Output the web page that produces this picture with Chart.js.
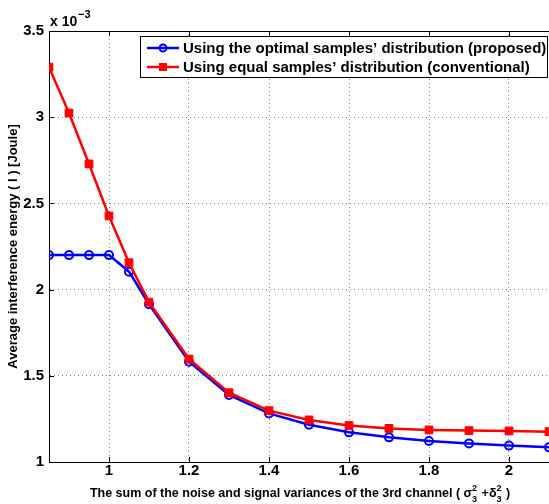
<!DOCTYPE html>
<html>
<head>
<meta charset="utf-8">
<script src="https://cdn.jsdelivr.net/npm/chart.js@4.4.1/dist/chart.umd.min.js"></script>
<style>
  body { margin: 0; background: #fff; }
  #wrap { width: 549px; height: 504px; }
</style>
</head>
<body>
<div id="wrap"><canvas id="theChart" width="549" height="504"></canvas></div>
<script>
// values, energy in units of 10^-3 Joule
var xValues = [0.85, 0.9, 0.95, 1, 1.05, 1.1, 1.2, 1.3, 1.4, 1.5, 1.6, 1.7, 1.8, 1.9, 2, 2.1];
var optimalEnergy = [2.2, 2.2, 2.2, 2.2, 2.104, 1.915, 1.582, 1.389, 1.282, 1.216, 1.172, 1.143, 1.122, 1.108, 1.095, 1.085];
var equalEnergy = [3.29, 3.024, 2.729, 2.427, 2.156, 1.927, 1.597, 1.402, 1.298, 1.244, 1.212, 1.195, 1.186, 1.182, 1.18, 1.176];
var xTicks = [1, 1.2, 1.4, 1.6, 1.8, 2];
var yTicks = [1, 1.5, 2, 2.5, 3, 3.5];
var seriesLabels = ['Using the optimal samples\u2019 distribution (proposed)', 'Using equal samples\u2019 distribution (conventional)'];

var fontFam = '"Liberation Sans", Arial, Helvetica, sans-serif';

function toPoints(xs, ys){
  var pts = [];
  for (var i = 0; i < xs.length; i++) {
    pts.push({x: xs[i], y: ys[i]});
  }
  return pts;
}

// draws legend, inner tick marks, top border, axis titles and the exponent label
var matlabLook = {
  id: 'matlabLook',
  afterDraw: function(chart){
    var ctx = chart.ctx;
    var area = chart.chartArea;
    var xs = chart.scales.x, ys = chart.scales.y;
    ctx.save();

    // top border
    ctx.strokeStyle = '#000';
    ctx.lineWidth = 1;
    ctx.beginPath();
    ctx.moveTo(area.left, area.top + 0.5);
    ctx.lineTo(area.right, area.top + 0.5);
    ctx.stroke();

    // inward tick marks
    ctx.beginPath();
    xTicks.forEach(function(t){
      var px = Math.round(xs.getPixelForValue(t)) + 0.5;
      ctx.moveTo(px, area.bottom); ctx.lineTo(px, area.bottom - 5);
      ctx.moveTo(px, area.top); ctx.lineTo(px, area.top + 5);
    });
    yTicks.forEach(function(t){
      var py = Math.round(ys.getPixelForValue(t)) + 0.5;
      ctx.moveTo(area.left, py); ctx.lineTo(area.left + 5, py);
    });
    ctx.stroke();

    // legend
    var lx = 140, ly = 36, lw = 407, lh = 41;
    ctx.fillStyle = '#fff';
    ctx.fillRect(lx, ly, lw, lh);
    ctx.strokeStyle = '#000';
    ctx.strokeRect(lx + 0.5, ly + 0.5, lw, lh);
    ctx.font = 'bold 15px ' + fontFam;
    ctx.textBaseline = 'middle';
    ctx.textAlign = 'left';
    chart.data.datasets.forEach(function(ds, i){
      var rowY = ly + 12 + i * 19;
      ctx.strokeStyle = ds.borderColor;
      ctx.lineWidth = 2.5;
      ctx.beginPath();
      ctx.moveTo(147, rowY); ctx.lineTo(179, rowY);
      ctx.stroke();
      if (ds.pointStyle === 'circle') {
        ctx.lineWidth = 2;
        ctx.beginPath();
        ctx.arc(163, rowY, 3.5, 0, Math.PI * 2);
        ctx.stroke();
      } else {
        ctx.fillStyle = ds.borderColor;
        ctx.fillRect(159, rowY - 4, 8, 8);
      }
      ctx.fillStyle = '#000';
      ctx.fillText(ds.label, 183, rowY + 1);
    });

    // exponent label
    ctx.fillStyle = '#000';
    ctx.textBaseline = 'alphabetic';
    ctx.font = 'bold 14px ' + fontFam;
    ctx.fillText('x 10', 50, 26);
    ctx.font = 'bold 11px ' + fontFam;
    ctx.fillText('\u22123', 78, 18);

    // y title
    ctx.save();
    ctx.translate(17, (area.top + area.bottom) / 2);
    ctx.rotate(-Math.PI / 2);
    ctx.textAlign = 'center';
    ctx.font = 'bold 13px ' + fontFam;
    ctx.fillText('Average interference energy ( I ) [Joule]', 0, 0);
    ctx.restore();

    // x title with stacked super/subscripts
    var base = 497;
    var parts = [
      {t: 'The sum of the noise and signal variances of the 3rd channel ( \u03c3'},
      {sup: '2', sub: '3'},
      {t: ' +\u03b4'},
      {sup: '2', sub: '3'},
      {t: ' )'}
    ];
    var big = 'bold 12.5px ' + fontFam, small = 'bold 9px ' + fontFam;
    var total = 0;
    parts.forEach(function(p){
      if (p.t) { ctx.font = big; p.w = ctx.measureText(p.t).width; }
      else { ctx.font = small; p.w = ctx.measureText(p.sup).width + 1; }
      total += p.w;
    });
    var cx = 300 - total / 2;
    ctx.textAlign = 'left';
    parts.forEach(function(p){
      if (p.t) {
        ctx.font = big;
        ctx.fillText(p.t, cx, base);
      } else {
        ctx.font = small;
        ctx.fillText(p.sup, cx, base - 6);
        ctx.fillText(p.sub, cx, base + 5);
      }
      cx += p.w;
    });

    ctx.restore();
  }
};

var myChart = new Chart(document.getElementById('theChart').getContext('2d'), {
  type: 'line',
  data: {
    datasets: [{
      label: seriesLabels[0],
      data: toPoints(xValues, optimalEnergy),
      borderColor: '#0000ff',
      backgroundColor: '#0000ff',
      borderWidth: 2.5,
      pointStyle: 'circle',
      pointRadius: 4,
      pointBorderWidth: 2,
      pointBackgroundColor: 'rgba(0,0,0,0)',
      pointBorderColor: '#0000ff',
      order: 1,
      tension: 0
    }, {
      label: seriesLabels[1],
      data: toPoints(xValues, equalEnergy),
      borderColor: '#ff0000',
      backgroundColor: '#ff0000',
      borderWidth: 2.5,
      pointStyle: 'rect',
      pointRadius: 5.5,
      pointBorderWidth: 1,
      pointBackgroundColor: '#ff0000',
      pointBorderColor: '#ff0000',
      order: 0,
      tension: 0
    }]
  },
  options: {
    responsive: false,
    animation: false,
    layout: { autoPadding: false, padding: { top: 31, right: 0, left: 0, bottom: 0 } },
    plugins: {
      legend: { display: false },
      tooltip: { enabled: false }
    },
    scales: {
      x: {
        type: 'linear',
        min: 0.85,
        max: 2.1,
        afterBuildTicks: function(scale){
          scale.ticks = xTicks.map(function(v){ return {value: v}; });
        },
        afterFit: function(scale){ scale.height = 42; },
        ticks: {
          color: '#000',
          padding: 0,
          maxRotation: 0,
          font: { family: fontFam, size: 15, weight: 'bold' },
          callback: function(v){ return String(v); }
        },
        grid: { color: 'rgba(0,0,0,0.5)', drawTicks: false, lineWidth: 1 },
        border: { color: '#000', width: 1, dash: [1, 3] }
      },
      y: {
        min: 1,
        max: 3.5,
        afterBuildTicks: function(scale){
          scale.ticks = yTicks.map(function(v){ return {value: v}; });
        },
        afterFit: function(scale){ scale.width = 49; },
        ticks: {
          color: '#000',
          padding: 5,
          font: { family: fontFam, size: 15, weight: 'bold' },
          callback: function(v){ return String(v); }
        },
        grid: { color: 'rgba(0,0,0,0.5)', drawTicks: false, lineWidth: 1 },
        border: { color: '#000', width: 1, dash: [1, 3] }
      }
    }
  },
  plugins: [matlabLook]
});
</script>
</body>
</html>
